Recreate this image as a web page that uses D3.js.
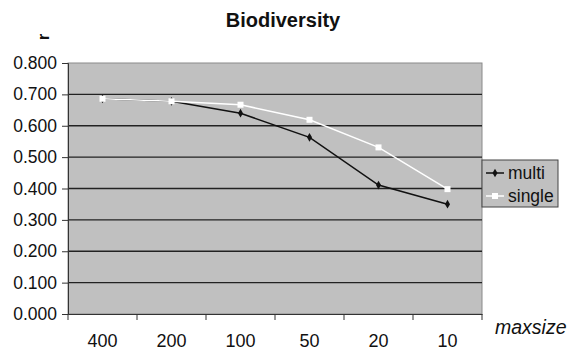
<!DOCTYPE html>
<html>
<head>
<meta charset="utf-8">
<script src="https://cdn.jsdelivr.net/npm/d3@7"></script>
<style>
  body { margin: 0; background: #fff; }
  text { font-family: "Liberation Sans", Arial, sans-serif; fill: #111; }
</style>
</head>
<body>
<div id="chart"></div>
<script>
// data
const categories = ['400', '200', '100', '50', '20', '10'];
const multi = [0.686, 0.678, 0.640, 0.563, 0.411, 0.350];
const single = [0.686, 0.678, 0.667, 0.619, 0.531, 0.398];
const yTicks = [0, 0.1, 0.2, 0.3, 0.4, 0.5, 0.6, 0.7, 0.8];

const width = 574, height = 350;
const plot = { left: 68, right: 482, top: 63, bottom: 314 };

const svg = d3.select('#chart').append('svg')
  .attr('width', width)
  .attr('height', height);

const x = d3.scaleBand().domain(categories).range([plot.left, plot.right]);
const y = d3.scaleLinear().domain([0, 0.8]).range([plot.bottom, plot.top]);

// plot area
svg.append('rect')
  .attr('x', plot.left).attr('y', plot.top)
  .attr('width', plot.right - plot.left).attr('height', plot.bottom - plot.top)
  .attr('fill', '#c0c0c0')
  .attr('stroke', '#8a8a8a');

// gridlines
svg.append('g').selectAll('line')
  .data(yTicks.slice(1, -1))
  .enter().append('line')
  .attr('x1', plot.left).attr('x2', plot.right)
  .attr('y1', d => y(d)).attr('y2', d => y(d))
  .attr('stroke', '#222').attr('stroke-width', 1.3);

// y axis
const yAxis = svg.append('g')
  .attr('transform', `translate(${plot.left},0)`)
  .call(d3.axisLeft(y).tickValues(yTicks).tickFormat(d3.format('.3f')).tickSize(6).tickPadding(5));
yAxis.selectAll('text').style('font-size', '17.5px');
yAxis.select('.domain').attr('stroke', '#333');
yAxis.selectAll('.tick line').attr('stroke', '#333');

// x axis
const xAxis = svg.append('g')
  .attr('transform', `translate(0,${plot.bottom})`)
  .call(d3.axisBottom(x).tickSize(0).tickPadding(20));
xAxis.selectAll('text').style('font-size', '18px');
xAxis.select('.domain').attr('stroke', '#333');
svg.append('g').selectAll('line')
  .data(categories.concat(['end']))
  .enter().append('line')
  .attr('x1', (d, i) => plot.left + i * x.bandwidth())
  .attr('x2', (d, i) => plot.left + i * x.bandwidth())
  .attr('y1', plot.bottom).attr('y2', plot.bottom + 6)
  .attr('stroke', '#333');

const line = d3.line()
  .x((d, i) => x(categories[i]) + x.bandwidth() / 2)
  .y(d => y(d));

// multi series
svg.append('path').datum(multi)
  .attr('d', line).attr('fill', 'none')
  .attr('stroke', '#111').attr('stroke-width', 1.5);
svg.append('g').selectAll('path')
  .data(multi)
  .enter().append('path')
  .attr('d', d3.symbol(d3.symbolDiamond, 22))
  .attr('transform', (d, i) => `translate(${x(categories[i]) + x.bandwidth() / 2},${y(d)})`)
  .attr('fill', '#111');

// single series
svg.append('path').datum(single)
  .attr('d', line).attr('fill', 'none')
  .attr('stroke', '#fff').attr('stroke-width', 1.5);
svg.append('g').selectAll('rect')
  .data(single)
  .enter().append('rect')
  .attr('x', (d, i) => x(categories[i]) + x.bandwidth() / 2 - 3)
  .attr('y', d => y(d) - 3)
  .attr('width', 6).attr('height', 6)
  .attr('fill', '#fff');

// title and axis titles
svg.append('text')
  .attr('x', 283).attr('y', 27)
  .attr('text-anchor', 'middle')
  .style('font-size', '20px').style('font-weight', 'bold')
  .text('Biodiversity');

svg.append('text')
  .attr('transform', 'translate(49,37) rotate(-90)')
  .attr('text-anchor', 'middle')
  .style('font-size', '17px').style('font-weight', 'bold')
  .text('r');

svg.append('text')
  .attr('x', 495).attr('y', 334)
  .style('font-size', '19.5px').style('font-style', 'italic')
  .text('maxsize');

// legend
const legend = svg.append('g').attr('transform', 'translate(482,160)');
legend.append('rect')
  .attr('width', 76).attr('height', 47)
  .attr('fill', '#c0c0c0').attr('stroke', '#444');
const legendItems = [
  { name: 'multi', color: '#111', marker: 'diamond' },
  { name: 'single', color: '#fff', marker: 'square' },
];
legendItems.forEach((item, i) => {
  const g = legend.append('g').attr('transform', `translate(0,${13 + i * 23})`);
  g.append('line').attr('x1', 4).attr('x2', 22).attr('y1', 0).attr('y2', 0)
    .attr('stroke', item.color).attr('stroke-width', 1.5);
  if (item.marker === 'diamond') {
    g.append('path').attr('d', d3.symbol(d3.symbolDiamond, 22))
      .attr('transform', 'translate(13,0)').attr('fill', item.color);
  } else {
    g.append('rect').attr('x', 10).attr('y', -3).attr('width', 6).attr('height', 6)
      .attr('fill', item.color);
  }
  g.append('text').attr('x', 26).attr('y', 6)
    .style('font-size', '17.5px').text(item.name);
});
</script>
</body>
</html>
